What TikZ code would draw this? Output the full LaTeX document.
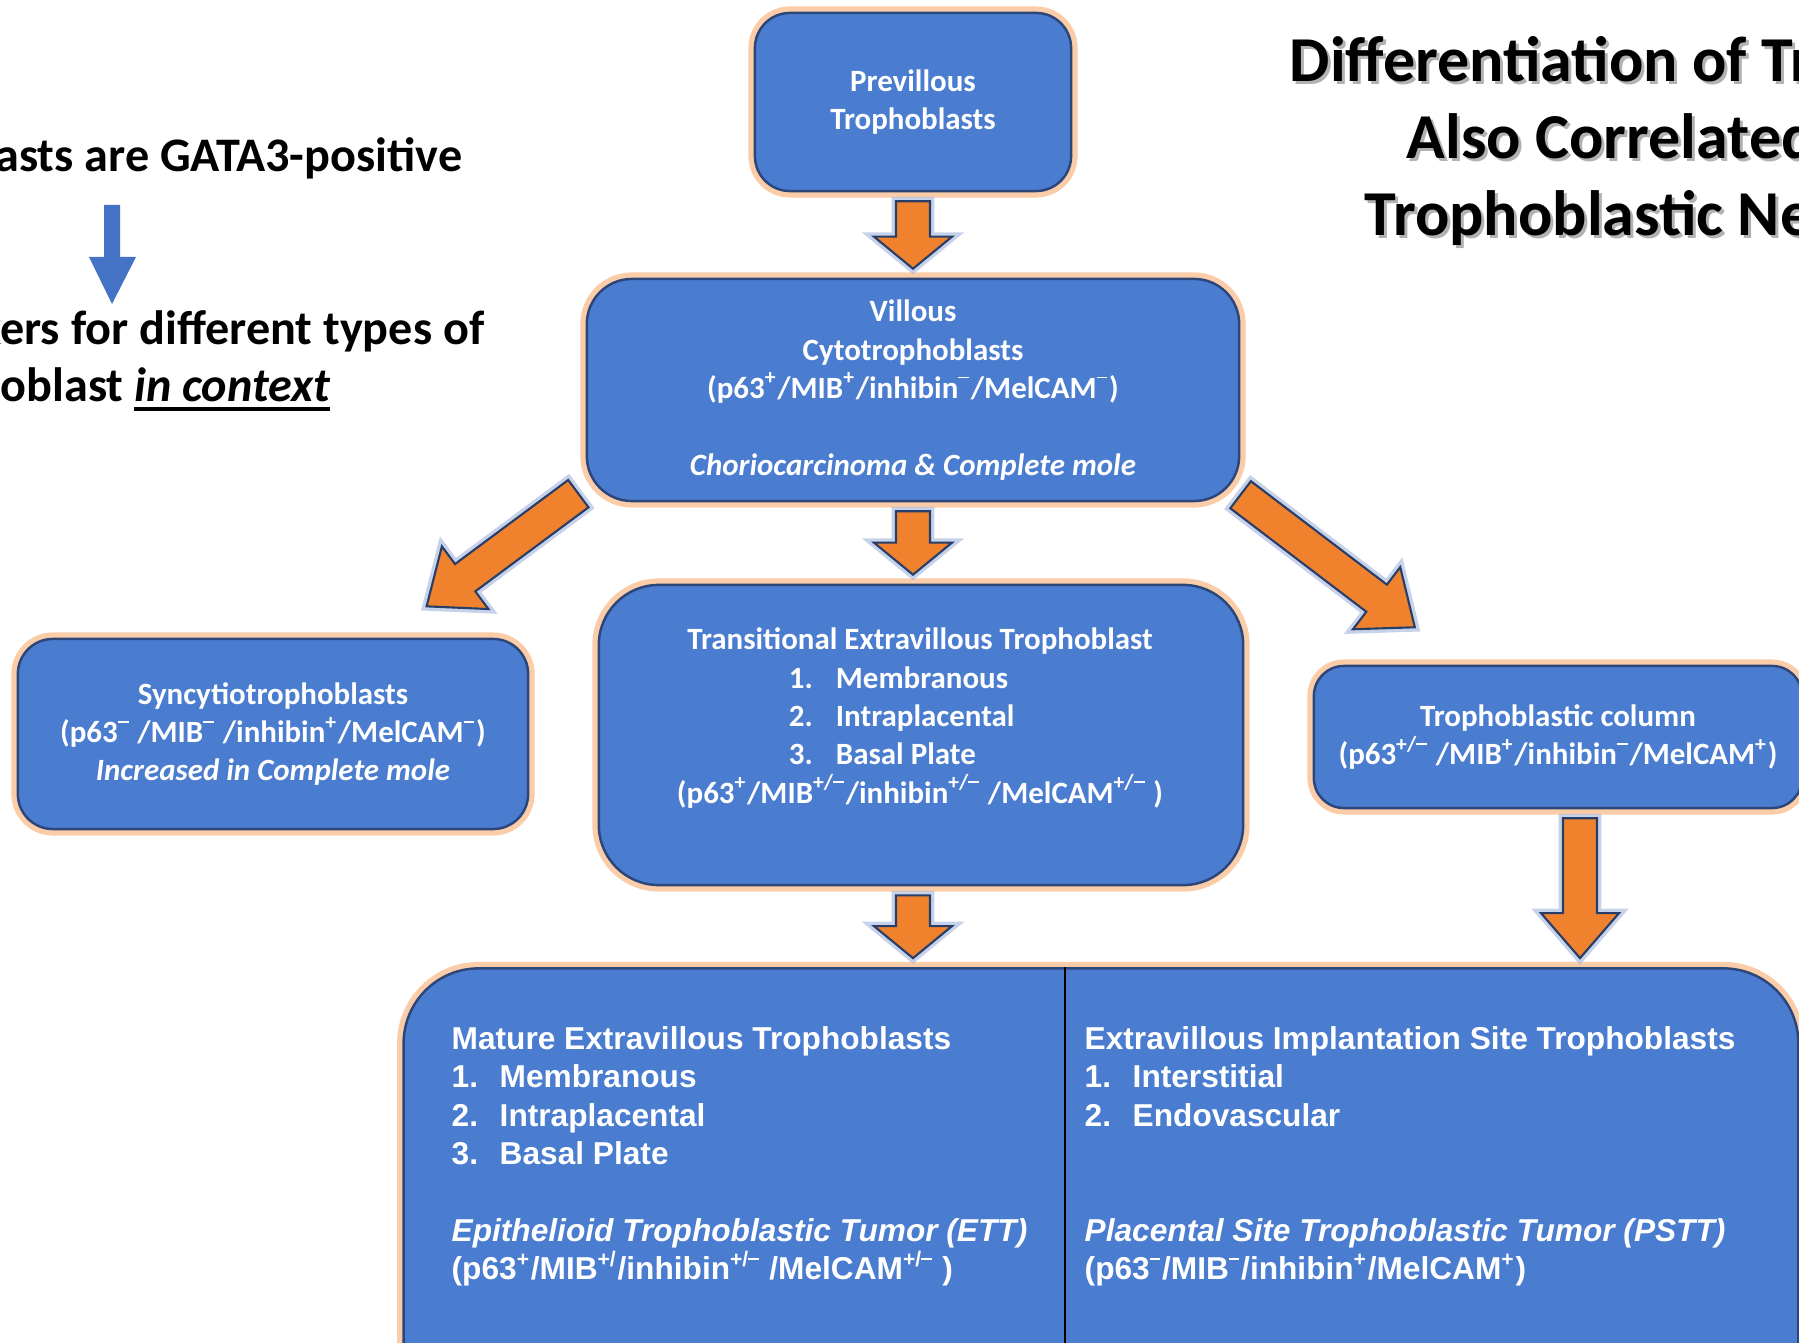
\documentclass[tikz,border=0pt]{standalone}
\usepackage{fontspec}
\setmainfont{Carlito}
\newfontfamily\arialf{Liberation Sans}
\usetikzlibrary{calc}

\definecolor{boxblue}{RGB}{74,124,208}
\definecolor{boxedge}{RGB}{44,70,122}
\definecolor{glow}{RGB}{250,205,168}
\definecolor{arroworange}{RGB}{240,130,45}
\definecolor{arrowedge}{RGB}{40,62,104}
\definecolor{halo}{RGB}{160,180,220}
\definecolor{gatablue}{RGB}{68,114,196}

\newcommand{\boxfont}{\bfseries\fontsize{8.8pt}{10.9pt}\selectfont}
\newcommand{\supP}{\textsuperscript{+}}
\newcommand{\supM}{\textsuperscript{\rule[0.3em]{0.5em}{0.09em}}}
\newcommand{\supPM}{\textsuperscript{+/\rule[0.3em]{0.5em}{0.09em}}}
\newcommand{\thickul}[1]{\setbox0\hbox{#1}\rlap{\rule[-2.6pt]{\wd0}{1.1pt}}\box0}
\newcommand{\litem}[3]{\makebox[#1][l]{\makebox[0.47cm][l]{#2}#3}}

% block arrow from #2 to #3, #1 = head length
\newcommand{\barrow}[3][0.32cm]{%
  \coordinate (ba-s) at ($(#2)!0.09cm!(#3)$);
  \coordinate (ba-t) at ($(#3)!0.09cm!(#2)$);
  \coordinate (ba-h) at ($(ba-t)!#1!(ba-s)$);
  \draw[barrow] ($(ba-s)!0.17cm!90:(ba-t)$) -- ($(ba-h)!0.17cm!-90:(ba-s)$)
    -- ($(ba-h)!0.39cm!-90:(ba-s)$) -- (ba-t) -- ($(ba-h)!0.39cm!90:(ba-s)$)
    -- ($(ba-h)!0.17cm!90:(ba-s)$) -- ($(ba-s)!0.17cm!-90:(ba-t)$) -- cycle;
}

\begin{document}
\begin{tikzpicture}[x=0.01cm,y=-0.01cm,
  tbox/.style={draw=boxedge, line width=0.7pt, fill=boxblue, text=white,
    align=center, inner sep=0pt, font=\boxfont,
    preaction={draw=glow, line width=0.13cm}},
  boxtext/.style={text=white, align=center, inner sep=0pt, font=\boxfont},
  bottext/.style={text=white, align=left, inner sep=0pt,
    font=\arialf\bfseries\fontsize{9pt}{10.9pt}\selectfont},
  side/.style={inner sep=0pt, anchor=base east,
    font=\bfseries\fontsize{13.7pt}{16.2pt}\selectfont},
  ttl/.style={inner sep=0pt, anchor=base west,
    font=\bfseries\fontsize{18.2pt}{21pt}\selectfont},
  barrow/.style={fill=arroworange, draw=arrowedge, line width=0.6pt,
    line join=miter, preaction={draw=halo, line width=2.5pt, opacity=0.6}},
  divider/.style={draw=black, line width=0.6pt}]
\useasboundingbox (0,0) rectangle (1799,1343);
\clip (0,0) rectangle (1799,1343);

% side notes
\node[side] (gata) at (463,172) {asts are GATA3-positive};
\node[side] (mark) at (485,345) {kers for different types of};
\node[side] (ctx) at (331,402) {hoblast \thickul{\textit{in context}}};
\fill[gatablue] (104,205) -- (120,205) -- (120,257) -- (136,257) -- (112,304)
  -- (89,257) -- (104,257) -- cycle;

% title
\foreach \tx/\ty/\ttxt [count=\i] in {1289/82/Differentiation of Tr,
    1406/159/Also Correlated, 1364/236/Trophoblastic Ne}{
  \node[ttl, text=black!30] (ttls\i) at (\tx+3,\ty+3) {\ttxt};
  \node[ttl] (ttl\i) at (\tx,\ty) {\ttxt};
}

% boxes
\node[tbox, rounded corners=0.35cm, minimum width=3.16cm, minimum height=1.78cm]
  (prev) at (913,102) {Previllous\\Trophoblasts};
\node[tbox, rounded corners=0.45cm, minimum width=6.52cm, minimum height=2.22cm]
  (vill) at (913,390) {Villous\\Cytotrophoblasts\\
  (p63\supP/MIB\supP/inhibin\supM/MelCAM\supM)\\[10.9pt]
  \textit{Choriocarcinoma \& Complete mole}};
\node[tbox, rounded corners=0.35cm, minimum width=5.1cm, minimum height=1.9cm]
  (sync) at (273,734) {Syncytiotrophoblasts\\
  (p63\supM{} /MIB\supM{} /inhibin\supP/MelCAM\supM)\\
  \textit{Increased in Complete mole}};
\node[tbox, rounded corners=0.6cm, minimum width=6.44cm, minimum height=3.0cm]
  (trans) at (921,735) {};
\node[boxtext] (transtxt) at (920,718) {Transitional Extravillous Trophoblast\\
  \litem{2.62cm}{1.}{Membranous}\\
  \litem{2.62cm}{2.}{Intraplacental}\\
  \litem{2.62cm}{3.}{Basal Plate}\\
  (p63\supP/MIB\supPM/inhibin\supPM{} /MelCAM\supPM{} )};
\node[tbox, rounded corners=0.3cm, minimum width=4.88cm, minimum height=1.42cm]
  (col) at (1558,737) {Trophoblastic column\\
  (p63\supPM{} /MIB\supP/inhibin\supM/MelCAM\supP)};
\node[tbox, rounded corners=0.75cm, minimum width=13.94cm, minimum height=4.53cm]
  (bot) at (1101,1195) {};
\draw[divider] ([xshift=-0.36cm]bot.north) -- ([xshift=-0.36cm]bot.south);
\node[bottext, anchor=north west] (mat) at (451,1026) {Mature Extravillous Trophoblasts\\
  \makebox[0.48cm][l]{1.}Membranous\\
  \makebox[0.48cm][l]{2.}Intraplacental\\
  \makebox[0.48cm][l]{3.}Basal Plate\\[10.9pt]
  \textit{Epithelioid Trophoblastic Tumor (ETT)}\\
  (p63\supP/MIB\textsuperscript{+/}/inhibin\supPM{} /MelCAM\supPM{} )};
\node[bottext, anchor=north west] (imp) at (1084,1026) {Extravillous Implantation Site Trophoblasts\\
  \makebox[0.48cm][l]{1.}Interstitial\\
  \makebox[0.48cm][l]{2.}Endovascular\\[21.8pt]
  \textit{Placental Site Trophoblastic Tumor (PSTT)}\\
  (p63\supM/MIB\supM/inhibin\supP/MelCAM\supP)};

% arrows
\coordinate (la-s) at ($(vill.south west)+(0,-14)$);
\coordinate (la-t) at ($(sync.north east)+(-110,-26)$);
\coordinate (ra-s) at ($(vill.south east)+(-7,-13)$);
\coordinate (ra-t) at ($(col.north)+(-136,-32)$);
\coordinate (cs) at ([xshift=0.22cm]col.south);
\barrow{prev.south}{vill.north}
\barrow{vill.south}{vill.south |- trans.north}
\barrow{vill.south |- trans.south}{vill.south |- bot.north}
\barrow[0.48cm]{la-s}{la-t}
\barrow[0.48cm]{ra-s}{ra-t}
\barrow[0.45cm]{cs}{cs |- bot.north}
\end{tikzpicture}
\end{document}
